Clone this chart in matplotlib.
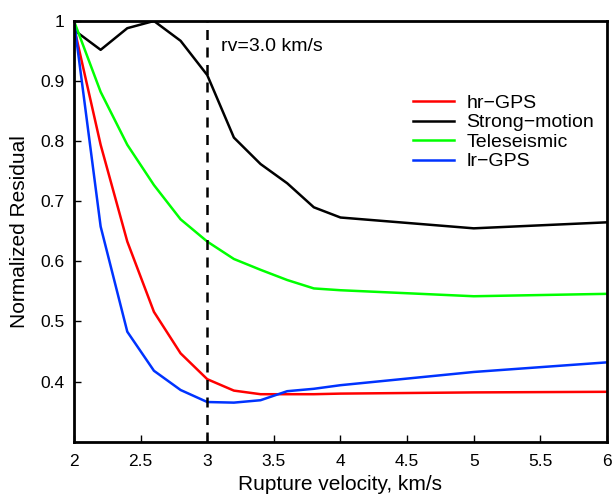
import matplotlib
matplotlib.use('Agg')
import matplotlib.pyplot as plt

# Data
rv = [2.0, 2.2, 2.4, 2.6, 2.8, 3.0, 3.2, 3.4, 3.6, 3.8, 4.0, 5.0, 6.0]
hr_gps = [0.99, 0.794, 0.633, 0.516, 0.447, 0.404, 0.385, 0.379, 0.379, 0.379, 0.380, 0.382, 0.383]
strong_motion = [0.985, 0.952, 0.988, 1.0, 0.967, 0.910, 0.806, 0.762, 0.730, 0.690, 0.673, 0.655, 0.665]
teleseismic = [1.0, 0.882, 0.794, 0.727, 0.670, 0.633, 0.604, 0.586, 0.569, 0.555, 0.552, 0.542, 0.546]
lr_gps = [1.0, 0.658, 0.483, 0.418, 0.386, 0.366, 0.365, 0.369, 0.384, 0.388, 0.394, 0.416, 0.432]
rv_ref = 3.0

plt.rcParams['font.family'] = ['Liberation Sans', 'DejaVu Sans']
plt.rcParams['font.size'] = 12

fig = plt.figure(figsize=(6.13, 4.96), dpi=100)
ax = fig.add_axes([0.1207, 0.1095, 0.8695, 0.8482])

lw = 1.8
ax.plot(rv, hr_gps, color=(1, 0, 0), lw=lw, label='hr\u2212GPS')
ax.plot(rv, strong_motion, color='black', lw=lw, label='Strong\u2212motion')
ax.plot(rv, teleseismic, color=(0, 1, 0), lw=lw, label='Teleseismic')
ax.plot(rv, lr_gps, color=(0, 0.2, 1), lw=lw, label='lr\u2212GPS')
ax.axvline(rv_ref, color='black', lw=1.8, linestyle=(0, (4, 3)))
ax.text(3.1, 0.9575, 'rv=3.0 km/s', fontsize=14, va='center', ha='left')

ax.set_xlim(2, 6)
ax.set_ylim(0.3, 1.0)
ax.set_xticks([2, 2.5, 3, 3.5, 4, 4.5, 5, 5.5, 6])
ax.set_xticklabels(['2', '2.5', '3', '3.5', '4', '4.5', '5', '5.5', '6'])
ax.set_yticks([0.4, 0.5, 0.6, 0.7, 0.8, 0.9, 1.0])
ax.set_yticklabels(['0.4', '0.5', '0.6', '0.7', '0.8', '0.9', '1'])
ax.tick_params(direction='in', length=5, width=1, labelsize=12.5)
ax.tick_params(axis='x', pad=9)
ax.tick_params(axis='y', pad=7)
for s in ax.spines.values():
    s.set_linewidth(2)

ax.set_xlabel('Rupture velocity, km/s', fontsize=15, labelpad=4.5)
ax.set_ylabel('Normalized Residual', fontsize=15, labelpad=8)

ax.legend(loc='upper left', bbox_to_anchor=(0.636, 0.826), frameon=False,
          fontsize=14, handlelength=2.1, handletextpad=0.65, labelspacing=0.1,
          borderaxespad=0, borderpad=0)

fig.savefig('out.png', dpi=100)
